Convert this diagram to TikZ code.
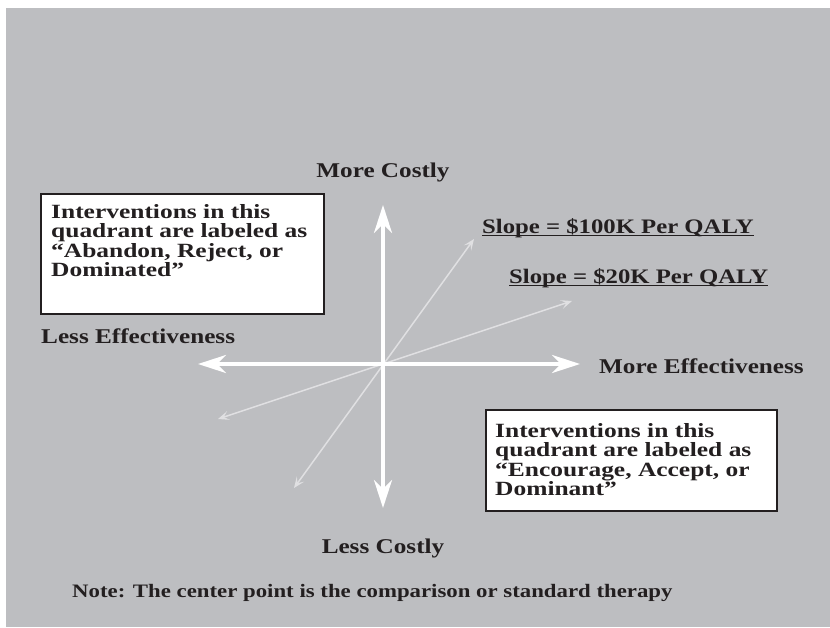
\documentclass[tikz,border=0pt]{standalone}
\usepackage{fontspec}
\setmainfont{Liberation Serif}[FakeStretch=1.2]
\newfontfamily\boxserif{Liberation Serif}[FakeStretch=1.26]
\usetikzlibrary{arrows.meta}

\definecolor{panelgrey}{RGB}{189,190,193}
\definecolor{inkdark}{RGB}{35,31,32}
\definecolor{raygrey}{RGB}{224,224,226}

\tikzset{
  bigtip/.tip={Stealth[length=28pt,width=18pt,inset=9pt]},
  smalltip/.tip={Stealth[length=11pt,width=9pt,inset=5pt]},
  axisline/.style={white, line width=4pt, bigtip-bigtip},
  rayline/.style={raygrey, line width=1.5pt, smalltip-smalltip},
  lbl/.style={inner sep=0pt, text=inkdark, font=\fontsize{21}{24}\selectfont\bfseries},
  slopelbl/.style={inner sep=0pt, text=inkdark, anchor=base west, font=\fontsize{20.6}{24}\selectfont\bfseries},
  slopeline/.style={draw=inkdark, line width=1.4pt},
  quadbox/.style={draw=inkdark, fill=white, line width=1.6pt, inner sep=0pt, anchor=north west},
  boxtext/.style={inner sep=0pt, text=inkdark, anchor=base west,
    font=\boxserif\fontsize{20.2}{19.6}\selectfont\bfseries},
  notelbl/.style={inner sep=0pt, text=inkdark, anchor=base west, font=\fontsize{19}{22}\selectfont\bfseries},
}

% stack of lines at a fixed baseline pitch, baseline on the first line
\newcommand\quadlines[4]{\vtop{\lineskiplimit-20pt\relax\hbox{#1}\hbox{#2}\hbox{#3}\hbox{#4}}}

\begin{document}
\begin{tikzpicture}[x=1pt,y=-1pt]
  % page and grey panel
  \fill[white] (0,0) rectangle (830,627);
  \useasboundingbox (0,0) rectangle (830,627);
  \fill[panelgrey] (6,8) rectangle (830,627);

  % origin and axis ends
  \coordinate (O) at (383,364);
  \coordinate (Ntip) at (383,205);
  \coordinate (Stip) at (383,508);
  \coordinate (Wtip) at (198,364);
  \coordinate (Etip) at (580,364);

  % threshold rays through the origin
  \coordinate (steepLo) at (294,488);
  \coordinate (steepHi) at (474,239);
  \coordinate (flatLo) at (218,419);
  \coordinate (flatHi) at (572,301);
  \draw[rayline] (steepLo) -- (steepHi);
  \draw[rayline] (flatLo) -- (flatHi);

  % cost and effectiveness axes
  \draw[axisline] (Stip) -- (Ntip);
  \draw[axisline] (Wtip) -- (Etip);

  % axis labels
  \node[lbl, anchor=base] (moreCost) at (383,177) {More Costly};
  \node[lbl, anchor=base] (lessCost) at (383,553) {Less Costly};
  \node[lbl, anchor=base west] (lessEff) at (41,343) {Less Effectiveness};
  \node[lbl, anchor=base west] (moreEff) at (599,373) {More Effectiveness};

  % slope labels with underlines
  \node[slopelbl] (slopeA) at (482,233) {Slope = \$100K Per QALY};
  \draw[slopeline] ([yshift=-2.5pt]slopeA.base west) -- ([yshift=-2.5pt]slopeA.base east);
  \node[slopelbl] (slopeB) at (509,283) {Slope = \$20K Per QALY};
  \draw[slopeline] ([yshift=-2.5pt]slopeB.base west) -- ([yshift=-2.5pt]slopeB.base east);

  % quadrant boxes
  \node[quadbox, minimum width=283pt, minimum height=120pt] (boxNW) at (40,193) {};
  \node[boxtext] (textNW) at (51,218) {\quadlines{Interventions in this}{quadrant are labeled as}{“Abandon, Reject, or}{Dominated”}};

  \node[quadbox, minimum width=291pt, minimum height=101pt] (boxSE) at (485,409) {};
  \node[boxtext] (textSE) at (495,437) {\quadlines{Interventions in this}{quadrant are labeled as}{“Encourage, Accept, or}{Dominant”}};

  % footnote
  \node[notelbl] (note) at (72,597) {Note: The center point is the comparison or standard therapy};
\end{tikzpicture}
\end{document}
